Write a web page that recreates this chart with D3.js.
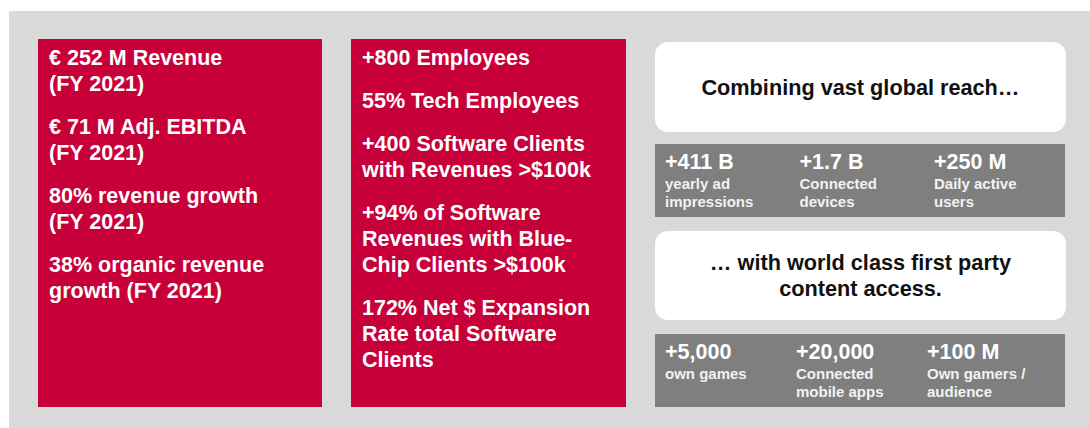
<!DOCTYPE html>
<html>
<head>
<meta charset="utf-8">
<script src="https://cdn.jsdelivr.net/npm/d3@7"></script>
<style>
  body { margin: 0; background: #fff; }
  text { font-family: "Liberation Sans", Arial, sans-serif; font-weight: bold; }
</style>
</head>
<body>
<div class="canvas"></div>
<script>
// data
const financeFacts = [
  ["€ 252 M Revenue", "(FY 2021)"],
  ["€ 71 M Adj. EBITDA", "(FY 2021)"],
  ["80% revenue growth", "(FY 2021)"],
  ["38% organic revenue", "growth (FY 2021)"]
];
const companyFacts = [
  ["+800 Employees"],
  ["55% Tech Employees"],
  ["+400 Software Clients", "with Revenues >$100k"],
  ["+94% of Software", "Revenues with Blue-", "Chip Clients >$100k"],
  ["172% Net $ Expansion", "Rate total Software", "Clients"]
];
const reachHeadline = ["Combining vast global reach…"];
const reachValues = ["+411 B", "+1.7 B", "+250 M"];
const reachLabels = [["yearly ad", "impressions"], ["Connected", "devices"], ["Daily active", "users"]];
const contentHeadline = ["… with world class first party", "content access."];
const contentValues = ["+5,000", "+20,000", "+100 M"];
const contentLabels = [["own games"], ["Connected", "mobile apps"], ["Own gamers /", "audience"]];

const width = 1090;
const height = 428;
const red = "#c8003a";
const stripGrey = "#7f7f7f";

const svg = d3
  .select(".canvas")
  .append("svg")
  .attr("width", width)
  .attr("height", height);

// background panel
svg.append("rect")
  .attr("x", 9)
  .attr("y", 11)
  .attr("width", width - 9)
  .attr("height", height - 11)
  .attr("fill", "#d9d9d9");

// red fact boxes
const drawFacts = (facts, x0, x1) => {
  svg.append("rect")
    .attr("x", x0)
    .attr("y", 39)
    .attr("width", x1 - x0)
    .attr("height", 368)
    .attr("fill", red);

  // baselines: 26px between lines, 43px between paragraphs
  let y = 64.5;
  const g = svg.append("g");
  facts.forEach((para) => {
    para.forEach((line, i) => {
      if (i > 0) y += 26;
      g.append("text")
        .attr("x", x0 + 11)
        .attr("y", y)
        .attr("fill", "#fff")
        .attr("font-size", 21.5)
        .text(line);
    });
    y += 43;
  });
};

drawFacts(financeFacts, 38, 322);
drawFacts(companyFacts, 351, 626);

// right side: headline boxes + grey stat strips
const drawHeadline = (lines, top, h) => {
  svg.append("rect")
    .attr("x", 655)
    .attr("y", top)
    .attr("width", 411)
    .attr("height", h)
    .attr("rx", 13)
    .attr("fill", "#fff");

  const mid = top + h / 2 + 7.5 - ((lines.length - 1) * 26) / 2;
  svg.append("g")
    .selectAll("text")
    .data(lines)
    .enter()
    .append("text")
    .attr("x", 860.5)
    .attr("y", (d, i) => mid + i * 26)
    .attr("text-anchor", "middle")
    .attr("fill", "#111")
    .attr("font-size", 21.7)
    .text((d) => d);
};

const drawStrip = (values, labels, top, lastX) => {
  svg.append("rect")
    .attr("x", 655)
    .attr("y", top)
    .attr("width", 410)
    .attr("height", 73)
    .attr("fill", stripGrey);

  const x = d3.scalePoint().domain(values).range([665, lastX]);

  const cols = svg.append("g")
    .selectAll("g")
    .data(values)
    .enter()
    .append("g")
    .attr("transform", (d) => `translate(${x(d)},${top})`);

  cols.append("text")
    .attr("y", 25)
    .attr("fill", "#fff")
    .attr("font-size", 21.5)
    .text((d) => d);

  cols.each(function (d, i) {
    d3.select(this)
      .selectAll(".sub")
      .data(labels[i])
      .enter()
      .append("text")
      .attr("class", "sub")
      .attr("y", (l, j) => 45 + j * 18)
      .attr("fill", "#f2f2f2")
      .attr("font-size", 15)
      .text((l) => l);
  });
};

drawHeadline(reachHeadline, 42, 90);
drawStrip(reachValues, reachLabels, 144, 934);
drawHeadline(contentHeadline, 231, 89);
drawStrip(contentValues, contentLabels, 334, 927);
</script>
</body>
</html>
